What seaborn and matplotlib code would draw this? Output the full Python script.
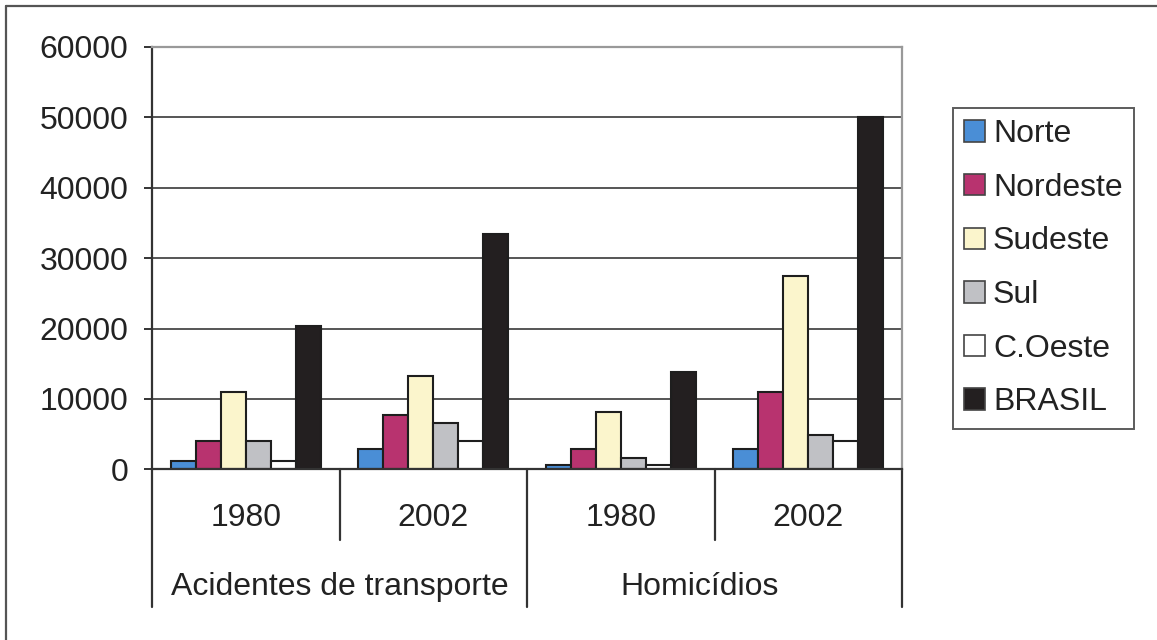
import numpy as np
import pandas as pd
import matplotlib
matplotlib.use("Agg")
import matplotlib.pyplot as plt
from matplotlib.lines import Line2D
import seaborn as sns

# Deaths by region: transport accidents and homicides, 1980 vs 2002
regions = ["Norte", "Nordeste", "Sudeste", "Sul", "C.Oeste", "BRASIL"]
groups = ["Acidentes 1980", "Acidentes 2002", "Homicídios 1980", "Homicídios 2002"]
years = ["1980", "2002", "1980", "2002"]
causes = ["Acidentes de transporte", "Homicídios"]

acidentes_1980 = [1200, 4000, 11000, 4000, 1200, 20300]
acidentes_2002 = [2850, 7700, 13300, 6600, 4000, 33400]
homicidios_1980 = [600, 2850, 8200, 1650, 600, 13800]
homicidios_2002 = [2850, 11000, 27400, 4900, 4000, 50000]

yticks = [0, 10000, 20000, 30000, 40000, 50000, 60000]

colors = ["#4a8ed6", "#b8336f", "#fbf5cc", "#c0c1c5", "#ffffff", "#231f20"]

series = [acidentes_1980, acidentes_2002, homicidios_1980, homicidios_2002]
df = pd.DataFrame(
    [(g, r, v) for g, vals in zip(groups, series) for r, v in zip(regions, vals)],
    columns=["grupo", "regiao", "obitos"],
)

sns.set_theme(style="white")
plt.rcParams["font.family"] = ["Liberation Sans", "DejaVu Sans"]
TXT = "#222222"
FS = 23

fig = plt.figure(figsize=(11.57, 6.40), dpi=100)
W, H = 1157, 640
ax = fig.add_axes([152 / W, 1 - 469.3 / H, (902 - 152) / W, (469.3 - 47) / H])

sns.barplot(
    data=df, x="grupo", y="obitos", hue="regiao", order=groups, hue_order=regions,
    palette=colors, saturation=1, edgecolor="#1e1e1e", linewidth=1.5,
    width=0.8, ax=ax, legend=False,
)

ax.set_ylim(0, 60000)
ax.set_xlim(-0.5, 3.5)
ax.set_yticks(yticks)
ax.set_yticklabels([str(t) for t in yticks], fontsize=FS, color=TXT)
ax.yaxis.grid(True, color="#555555", linewidth=1.4)
ax.set_axisbelow(True)
ax.tick_params(axis="y", left=True, length=6, width=1.4, color="#333333", pad=11)
ax.tick_params(axis="x", bottom=False, labelbottom=False)
ax.set_xlabel("")
ax.set_ylabel("")

for side in ["left", "bottom"]:
    ax.spines[side].set_color("#333333")
    ax.spines[side].set_linewidth(1.6)
for side in ["top", "right"]:
    ax.spines[side].set_color("#999999")
    ax.spines[side].set_linewidth(1.6)

# Two-level category axis: years, then cause of death
tr = ax.get_xaxis_transform()
px = 1.0 / (469.3 - 47)  # one pixel in axes-height units
for i, yr in enumerate(years):
    ax.text(i, -(518 - 469.3) * px, yr, transform=tr, ha="center", va="center",
            fontsize=FS, color=TXT, clip_on=False)
for xc, cause in zip([0.5, 2.42], causes):
    ax.text(xc, -(587 - 469.3) * px, cause, transform=tr, ha="center", va="center",
            fontsize=FS, color=TXT, clip_on=False)
for xs, bottom in [(-0.5, 607), (0.5, 540), (1.5, 607), (2.5, 540), (3.5, 607)]:
    ax.add_line(Line2D([xs, xs], [0, -(bottom - 469.3) * px], transform=tr,
                       color="#333333", linewidth=1.6, clip_on=False))

# Legend
handles = [plt.Rectangle((0, 0), 1, 1, facecolor=c, edgecolor="#444444", linewidth=1.2)
           for c in colors]
leg = fig.legend(
    handles, regions, loc="upper left", bbox_to_anchor=(953 / W, 1 - 108 / H),
    fontsize=FS, frameon=True, fancybox=False, handlelength=0.65, handleheight=0.65,
    handletextpad=0.25, labelspacing=0.74, borderpad=0.35, borderaxespad=0,
)
leg.get_frame().set_edgecolor("#333333")
leg.get_frame().set_linewidth(1.4)
for t in leg.get_texts():
    t.set_color(TXT)

# Outer frame (top and left edges)
fig.add_artist(Line2D([6 / W, 1], [1 - 6 / H, 1 - 6 / H], transform=fig.transFigure,
                      color="#555555", linewidth=1.6))
fig.add_artist(Line2D([6 / W, 6 / W], [0, 1 - 6 / H], transform=fig.transFigure,
                      color="#555555", linewidth=1.6))

fig.savefig("out.png", dpi=100, facecolor="white")
